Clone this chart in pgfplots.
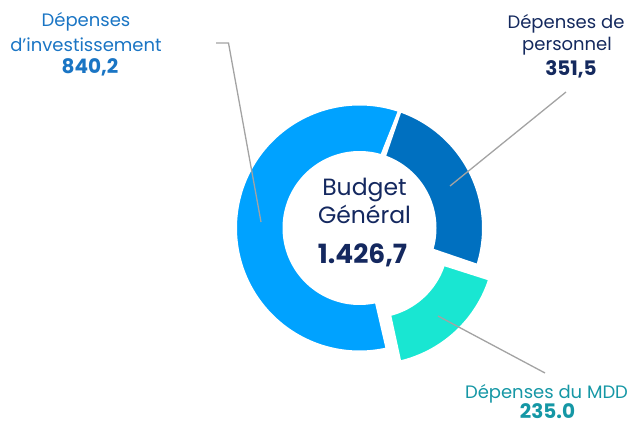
\documentclass[border=0pt]{standalone}
\usepackage{pgfplots}
\pgfplotsset{compat=1.18}
\usepackage{fontspec}
\setmainfont{Poppins}
\definecolor{cInv}{HTML}{00A2FF}
\definecolor{cPer}{HTML}{0070C0}
\definecolor{cMdd}{HTML}{19E6D2}
\definecolor{tInv}{HTML}{1A75C4}
\definecolor{tPer}{HTML}{14295E}
\definecolor{tMdd}{HTML}{1597A5}
\definecolor{tCen}{HTML}{14285F}
\definecolor{lead}{HTML}{A3A3A3}
% data
\def\vInv{840.2}
\def\vPer{351.5}
\def\vMdd{235.0}
\def\Ro{124.25}
\def\Ri{75.25}
\def\cx{359.5}
\def\cy{228}
\newcommand{\sector}[5]{%
\addplot[fill=#1, draw=white, line width=3.5pt, line join=miter, domain=0:2, samples=241, variable=\t]
 ({#4 + ifthenelse(\t<1.001, \Ro, \Ri)*cos(ifthenelse(\t<1.001, #2+(#3-#2)*\t, #3-(#3-#2)*(\t-1)))},
  {#5 - ifthenelse(\t<1.001, \Ro, \Ri)*sin(ifthenelse(\t<1.001, #2+(#3-#2)*\t, #3-(#3-#2)*(\t-1)))}) -- cycle;
}
\begin{document}
\begin{tikzpicture}
\pgfmathsetmacro{\tot}{\vInv+\vPer+\vMdd}
\pgfmathsetmacro{\aA}{71}
\pgfmathsetmacro{\aB}{\aA-\vPer/\tot*360}
\pgfmathsetmacro{\aC}{\aB-\vMdd/\tot*360}
\pgfmathsetmacro{\aD}{\aC-\vInv/\tot*360}
\pgfmathsetmacro{\aM}{(\aB+\aC)/2}
\pgfmathsetmacro{\mx}{\cx+18*cos(\aM)}
\pgfmathsetmacro{\my}{\cy-18*sin(\aM)}
\begin{axis}[scale only axis, width=633pt, height=423pt,
  xmin=0, xmax=633, ymin=0, ymax=423, y dir=reverse,
  hide axis, clip=false]
\addplot[draw=none] coordinates {(0,0) (633,423)};
\sector{cInv}{\aC}{\aD}{\cx}{\cy}
\sector{cPer}{\aA}{\aB}{\cx}{\cy}
\sector{cMdd}{\aB}{\aC}{\mx}{\my}
% leader lines
\addplot[lead, line width=1.3pt, no marks] coordinates {(216,43) (228.5,43) (261,222)};
\addplot[lead, line width=1.3pt, no marks] coordinates {(450,186) (566,92)};
\addplot[lead, line width=1.3pt, no marks] coordinates {(438,316) (545,373)};
% labels
\node[anchor=base, text=tInv, font=\fontsize{18}{20}\selectfont] at (axis cs:86,27) {Dépenses};
\node[anchor=base, text=tInv, font=\fontsize{18}{20}\selectfont] at (axis cs:86,51) {d’investissement};
\node[anchor=base, text=tInv, font=\bfseries\fontsize{20}{22}\selectfont] at (axis cs:90,73) {840,2};
\node[anchor=base, text=tPer, font=\fontsize{18}{20}\selectfont] at (axis cs:566,28) {Dépenses de};
\node[anchor=base, text=tPer, font=\fontsize{18}{20}\selectfont] at (axis cs:567,50) {personnel};
\node[anchor=base, text=tPer, font=\bfseries\fontsize{20}{22}\selectfont] at (axis cs:571,75) {351,5};
\node[anchor=base, text=tMdd, font=\fontsize{18}{20}\selectfont] at (axis cs:546.5,398.5) {Dépenses du MDD};
\node[anchor=base, inner sep=0pt, text=tMdd, font=\bfseries\fontsize{20}{22}\selectfont] at (axis cs:547.5,418.5) {235.0};
\node[anchor=base, text=tCen, font=\fontsize{23.5}{26}\selectfont] at (axis cs:364.5,195) {Budget};
\node[anchor=base, text=tCen, font=\fontsize{23.5}{26}\selectfont] at (axis cs:364.5,223) {Général};
\node[anchor=base, text=tCen, font=\bfseries\fontsize{26.5}{30}\selectfont] at (axis cs:362.5,263) {1.426,7};
\end{axis}
\end{tikzpicture}
\end{document}
